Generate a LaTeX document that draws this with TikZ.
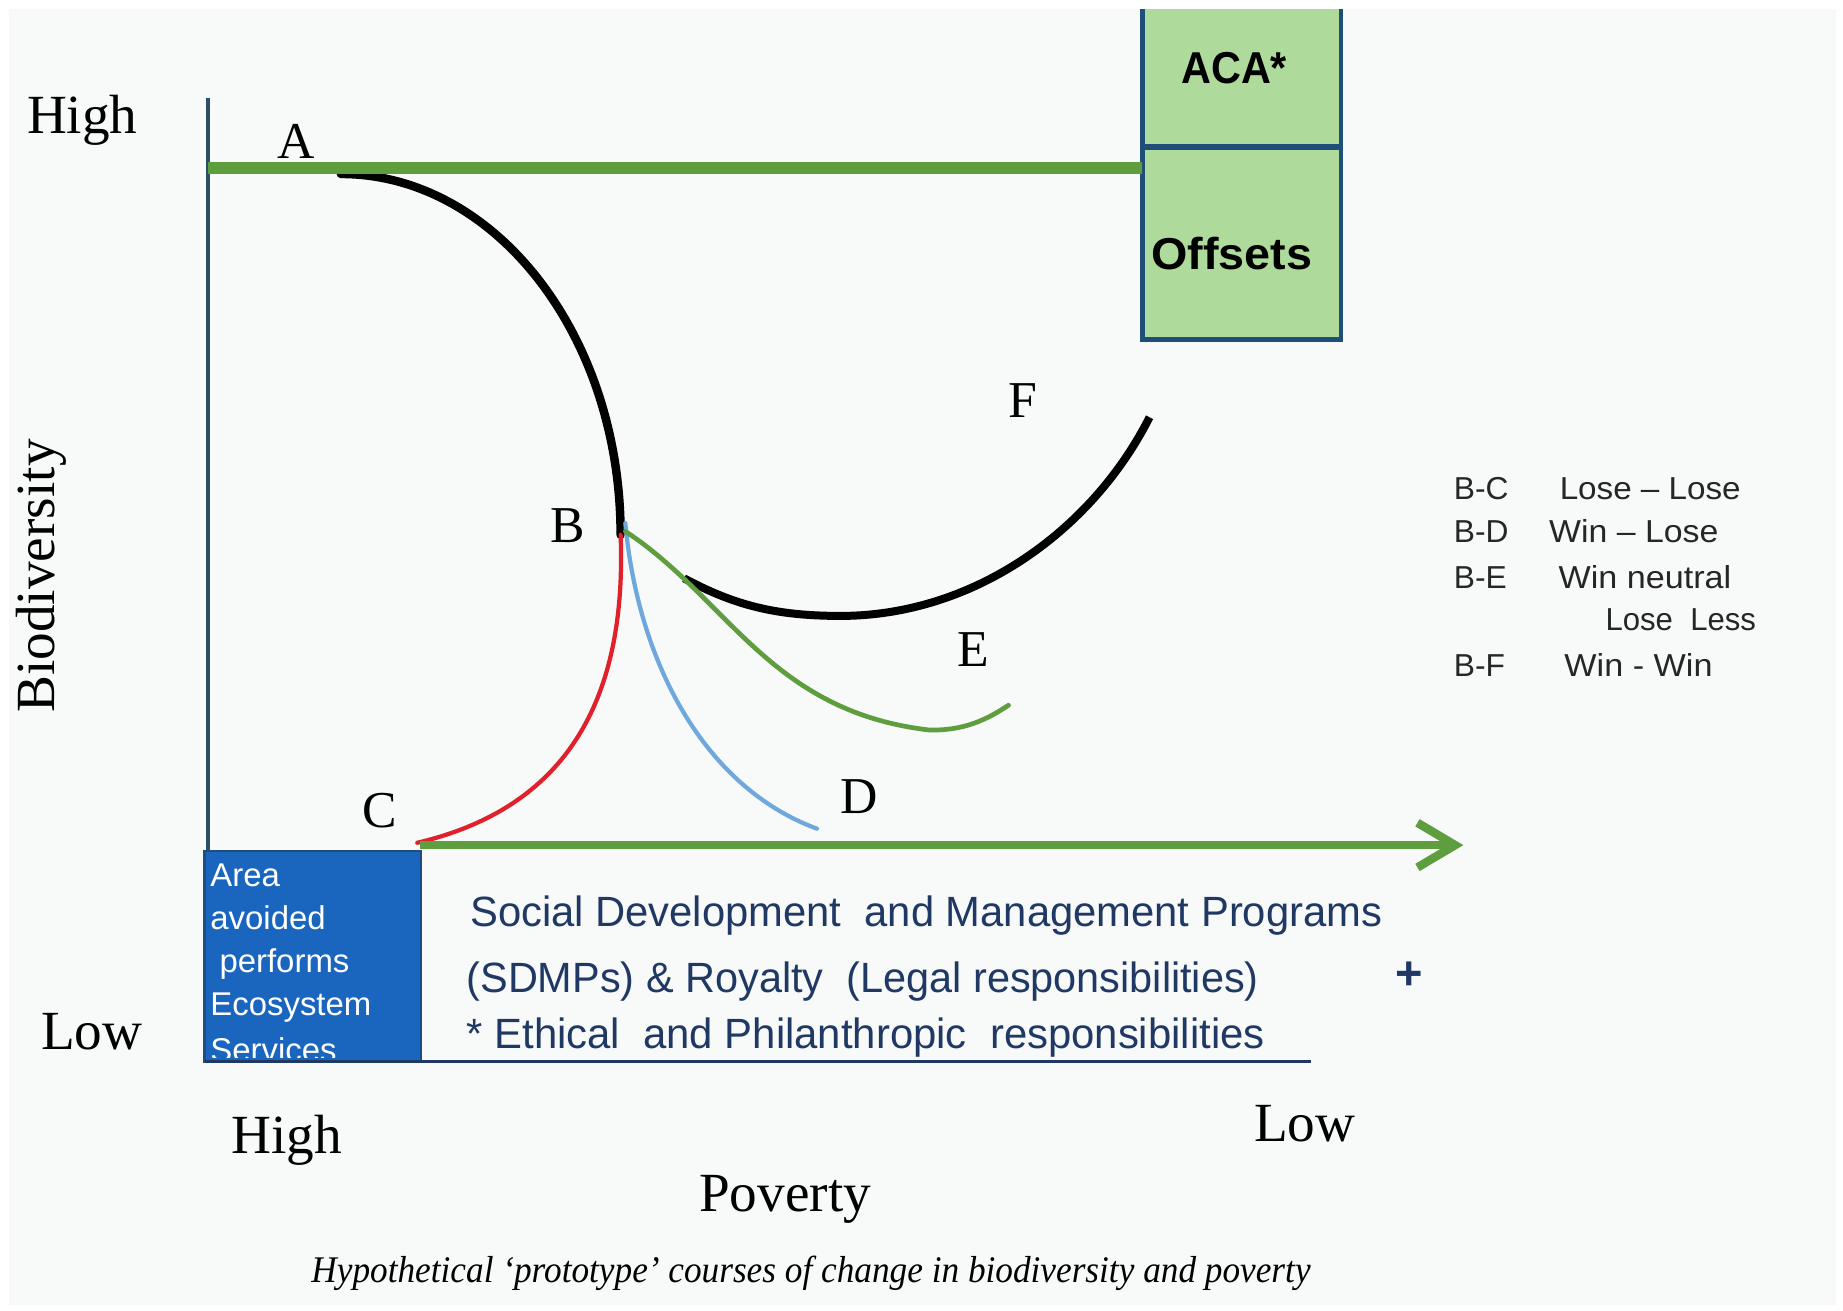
\documentclass[tikz,border=0pt]{standalone}
\usepackage{fontspec}
\setmainfont{Liberation Serif}
\setsansfont{Liberation Sans}
\usetikzlibrary{arrows.meta}
\definecolor{bgc}{HTML}{F8F9F9}
\definecolor{lgreen}{HTML}{5E9E3F}
\definecolor{boxgreen}{HTML}{AEDB9C}
\definecolor{boxblue}{HTML}{1F4E79}
\definecolor{areablue}{HTML}{1A66BE}
\definecolor{navy}{HTML}{1F3864}
\definecolor{axisc}{HTML}{2E4D6E}
\definecolor{lblue}{HTML}{6FA8DC}
\definecolor{cred}{HTML}{E0202A}
\newcommand{\fw}[2]{\resizebox{#1}{\height}{#2}}
\begin{document}
\begin{tikzpicture}[x=0.5pt,y=-0.5pt,
  every node/.style={inner sep=0pt, outer sep=0pt},
  serifbig/.style={font=\fontsize{23.5}{28}\selectfont},
  letter/.style={font=\fontsize{22}{26}\selectfont},
  sansline/.style={font=\sffamily\fontsize{18}{22}\selectfont, text=navy, anchor=west},
  legend/.style={font=\sffamily\fontsize{13.5}{16}\selectfont, text=black!85, anchor=west},
  areatext/.style={font=\sffamily\fontsize{14}{17}\selectfont, text=white, anchor=west},
  boxtext/.style={font=\sffamily\bfseries\fontsize{19}{22}\selectfont},
  curve/.style={line width=1.8pt, line cap=round}
]
\useasboundingbox (0,0) rectangle (1568,1115);
\fill[white] (0,0) rectangle (1568,1115);
\fill[bgc] (8,8) rectangle (1562,1110);

% coordinates
\coordinate (axtop) at (177,83);
\coordinate (axbot) at (177,903);
\coordinate (Aline) at (177,143);
\coordinate (Astart) at (290,148);
\coordinate (B) at (528,455);
\coordinate (Bd) at (532,445);
\coordinate (Be) at (532,452);
\coordinate (Cend) at (355,717);
\coordinate (Dend) at (695,705);
\coordinate (Emin) at (790,621);
\coordinate (Eend) at (858,600);
\coordinate (Fstart) at (582,492);
\coordinate (Fmin) at (715,524);
\coordinate (Fend) at (978,355);
\coordinate (arrS) at (357,719);
\coordinate (arrE) at (1245,719);
\coordinate (xaxL) at (174,903);
\coordinate (xaxR) at (1115,903);

% ACA / Offsets box
\fill[boxgreen] (972,8) rectangle (1141,289);
\draw[boxblue, line width=2pt] (972,8) -- (972,289) -- (1141,289) -- (1141,8);
\draw[boxblue, line width=2.4pt] (972,125) -- (1141,125);
\node[boxtext] (aca) at (1050,58) {\fw{45pt}{ACA*}};
\node[boxtext] (offsets) at (1048,216) {\fw{68.5pt}{Offsets}};
\coordinate (boxL) at (972,143);

% axis
\draw[axisc, line width=1.5pt] (axtop) -- (axbot);

% curves
\draw[curve, black, line width=3.6pt] (Astart) .. controls (421,148) and (528,285) .. (B);
\draw[black, line width=3.4pt, line cap=butt] (Fstart) .. controls (625,515) and (660,524) .. (Fmin)
   .. controls (830,524) and (930,450) .. (Fend);
\draw[curve, cred] (B) .. controls (534,610) and (470,690) .. (Cend);
\draw[curve, lblue] (Bd) .. controls (543,565) and (600,670) .. (Dend);
\draw[curve, lgreen, line width=2pt] (Be) .. controls (620,510) and (655,605) .. (Emin)
   .. controls (820,622) and (840,612) .. (Eend);

% top green line
\draw[lgreen, line width=5pt] (Aline) -- (boxL);

% bottom arrow
\draw[lgreen, line width=3.6pt, -{Straight Barb[length=16pt, width=19pt, line width=3.6pt]}] (arrS) -- (arrE);

% area box
\fill[areablue] (174,724) rectangle (358,903);
\begin{scope}
\clip (174,724) rectangle (358,900);
\node[areatext] (ar1) at (179,745) {Area};
\node[areatext] (ar2) at (179,781) {avoided};
\node[areatext] (ar3) at (179,820) {\ performs};
\node[areatext] (ar4) at (179,857) {Ecosystem};
\node[areatext] (ar5) at (179,893) {Services};
\end{scope}
\draw[boxblue, line width=1pt] (174,724) rectangle (358,903);
\draw[navy, line width=1.2pt] (xaxL) -- (xaxR);

% letters
\node[letter] (lA) at (252,120) {A};
\node[letter] (lB) at (483,447) {B};
\node[letter] (lC) at (323,690) {C};
\node[letter] (lD) at (731,678) {D};
\node[letter] (lE) at (828,553) {E};
\node[letter] (lF) at (870,341) {F};

% axis labels
\node[serifbig] (yhigh) at (70,102) {High};
\node[serifbig] (ylow) at (78,878) {Low};
\node[serifbig] (xhigh) at (244,970) {High};
\node[serifbig] (xlow) at (1110,956) {Low};
\node[serifbig] (pov) at (668,1020) {Poverty};
\node[serifbig, rotate=90] (bio) at (35,490) {Biodiversity};

% programme text
\node[sansline] (s1) at (400,779) {\fw{388pt}{Social Development\ \ and Management Programs}};
\node[sansline] (s2) at (397,835) {\fw{337pt}{(SDMPs) \& Royalty\ \ (Legal responsibilities)}};
\node[sansline] (s3) at (397,883) {\fw{339.5pt}{* Ethical\ \ and Philanthropic\ \ responsibilities}};
\node[font=\sffamily\bfseries\fontsize{20}{22}\selectfont, text=navy] (plus) at (1199,830) {+};

% legend
\node[legend] (g1a) at (1237,416) {B-C};
\node[legend] (g1b) at (1327,416) {\fw{77pt}{Lose -- Lose}};
\node[legend] (g2a) at (1237,452) {B-D};
\node[legend] (g2b) at (1318,452) {\fw{72pt}{Win -- Lose}};
\node[legend] (g3a) at (1237,491) {B-E};
\node[legend] (g3b) at (1326,491) {\fw{73.5pt}{Win neutral}};
\node[legend] (g4b) at (1366,527) {\fw{64pt}{Lose\ \ Less}};
\node[legend] (g5a) at (1237,566) {B-F};
\node[legend] (g5b) at (1331,566) {\fw{63pt}{Win - Win}};

% caption
\node[font=\itshape\fontsize{16}{18}\selectfont] (cap) at (690,1083) {\fw{425pt}{Hypothetical ‘prototype’ courses of change in biodiversity and poverty}};
\end{tikzpicture}
\end{document}
